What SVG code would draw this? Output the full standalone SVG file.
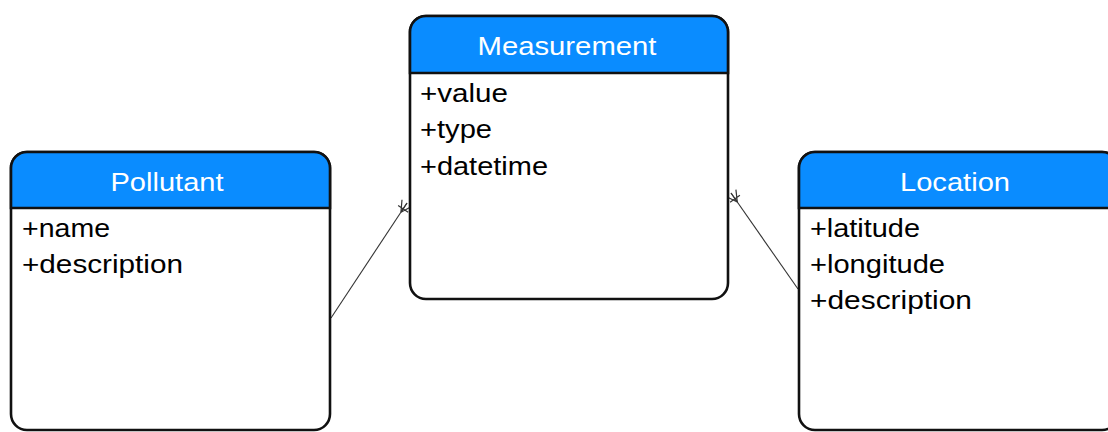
<svg xmlns="http://www.w3.org/2000/svg" width="1108" height="432" viewBox="0 0 1108 432">
  <defs>
    <style>
      .box { fill: #ffffff; stroke: #111111; stroke-width: 2.6; }
      .head { fill: #0a8cff; stroke: #111111; stroke-width: 2.6; }
      .title { font-family: "Liberation Sans", Arial, sans-serif; font-size: 25px; fill: #ffffff; text-anchor: middle; }
      .attr { font-family: "Liberation Sans", Arial, sans-serif; font-size: 25px; fill: #000000; }
      .link { fill: none; stroke: #333333; stroke-width: 1.1; }
    </style>
    <!-- crow's foot (many) end with a crossing bar -->
    <marker id="many" markerUnits="userSpaceOnUse" viewBox="-14 -8 16 16" refX="0" refY="0" markerWidth="16" markerHeight="16" orient="auto">
      <path d="M-11,0 L0,-6 M-11,0 L0,6 M-11,0 L0,0 M-7,-6 L-7,6" fill="none" stroke="#333333" stroke-width="1.2"/>
    </marker>
  </defs>

  <!-- connectors -->
  <g id="connectors">
    <line class="link" x1="331" y1="318" x2="407" y2="203" marker-end="url(#many)"/>
    <line class="link" x1="798" y1="289" x2="731" y2="193" marker-end="url(#many)"/>
  </g>

  <!-- Measurement entity -->
  <g id="measurement">
    <rect class="box" x="410" y="16" width="318" height="283" rx="16" ry="16"/>
    <path class="head" d="M410,73 L410,32 A16,16 0 0 1 426,16 L712,16 A16,16 0 0 1 728,32 L728,73 Z"/>
    <text class="title" x="567" y="55" textLength="179" lengthAdjust="spacingAndGlyphs">Measurement</text>
    <text class="attr" x="420" y="102" textLength="88" lengthAdjust="spacingAndGlyphs">+value</text>
    <text class="attr" x="420" y="138" textLength="72" lengthAdjust="spacingAndGlyphs">+type</text>
    <text class="attr" x="420" y="175" textLength="128" lengthAdjust="spacingAndGlyphs">+datetime</text>
  </g>

  <!-- Pollutant entity -->
  <g id="pollutant">
    <rect class="box" x="11" y="152" width="319" height="278" rx="16" ry="16"/>
    <path class="head" d="M11,208 L11,168 A16,16 0 0 1 27,152 L314,152 A16,16 0 0 1 330,168 L330,208 Z"/>
    <text class="title" x="167" y="191" textLength="113" lengthAdjust="spacingAndGlyphs">Pollutant</text>
    <text class="attr" x="22" y="237" textLength="88" lengthAdjust="spacingAndGlyphs">+name</text>
    <text class="attr" x="22" y="273" textLength="161" lengthAdjust="spacingAndGlyphs">+description</text>
  </g>

  <!-- Location entity -->
  <g id="location">
    <rect class="box" x="799" y="152" width="319" height="278" rx="16" ry="16"/>
    <path class="head" d="M799,208 L799,168 A16,16 0 0 1 815,152 L1102,152 A16,16 0 0 1 1118,168 L1118,208 Z"/>
    <text class="title" x="955" y="191" textLength="110" lengthAdjust="spacingAndGlyphs">Location</text>
    <text class="attr" x="810" y="237" textLength="110" lengthAdjust="spacingAndGlyphs">+latitude</text>
    <text class="attr" x="810" y="273" textLength="135" lengthAdjust="spacingAndGlyphs">+longitude</text>
    <text class="attr" x="810" y="309" textLength="162" lengthAdjust="spacingAndGlyphs">+description</text>
  </g>
</svg>
